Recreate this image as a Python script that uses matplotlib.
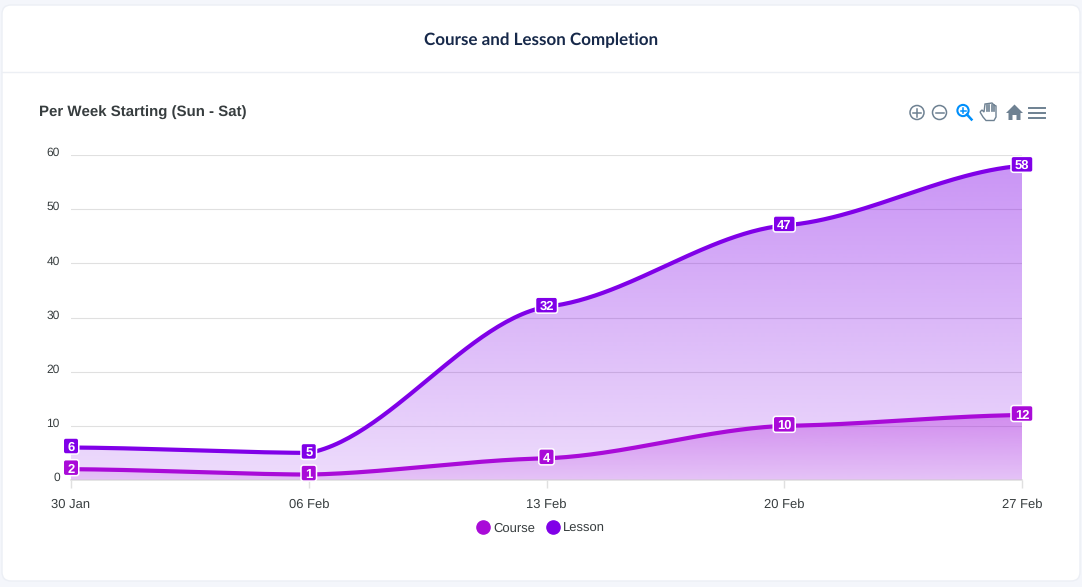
import numpy as np
import matplotlib
matplotlib.use("Agg")
import matplotlib.pyplot as plt
from matplotlib.patches import Circle, FancyBboxPatch, PathPatch, Polygon
from matplotlib.path import Path

weeks = ["30 Jan", "06 Feb", "13 Feb", "20 Feb", "27 Feb"]
course = [2, 1, 4, 10, 12]
lesson = [6, 5, 32, 47, 58]
y_ticks = [0, 10, 20, 30, 40, 50, 60]

COURSE_COLOR = "#a90bd8"
LESSON_COLOR = "#8000e8"
W, H = 1082, 587


def smooth(values, n=60):
    # each segment is its own cubic, end slopes are a share of the segment rise
    y = np.array(values, dtype=float)
    xs, ys = [], []
    for i in range(len(y) - 1):
        t = np.linspace(0, 1, n)
        m = 0.3 * (y[i + 1] - y[i])
        h00 = 2 * t**3 - 3 * t**2 + 1
        h10 = t**3 - 2 * t**2 + t
        h01 = -2 * t**3 + 3 * t**2
        h11 = t**3 - t**2
        xs.append(i + t)
        ys.append(h00 * y[i] + h10 * m + h01 * y[i + 1] + h11 * m)
    return np.concatenate(xs), np.concatenate(ys)


def gradient_area(ax, values, color, a_top, a_bottom, z):
    x, y = smooth(values)
    top = max(values)
    rgb = matplotlib.colors.to_rgb(color)
    img = np.zeros((256, 1, 4))
    img[..., :3] = rgb
    img[:, 0, 3] = np.linspace(a_top, a_bottom, 256)
    im = ax.imshow(img, extent=(x[0], x[-1], 0, top), origin="upper",
                   aspect="auto", zorder=z, interpolation="bilinear")
    poly = Polygon(np.vstack([np.c_[x, y], [x[-1], 0], [x[0], 0]]),
                   closed=True, transform=ax.transData, fc="none", ec="none")
    ax.add_patch(poly)
    im.set_clip_path(poly)
    ax.plot(x, y, color=color, lw=3.0, zorder=z + 2, solid_capstyle="butt")


def badges(ax, top, values, color):
    # badges are drawn on the pixel overlay so their size stays fixed
    for i, v in enumerate(values):
        px, py = ax.transData.transform((i, v))
        cx, cy = px, H - py - 1.5
        w = 22 if v >= 10 else 15.5
        top.add_patch(FancyBboxPatch((cx - w / 2, cy - 8), w, 16,
                                     boxstyle="round,pad=0,rounding_size=2.5",
                                     fc=color, ec="white", lw=1.1))
        top.text(cx, cy + 0.3, str(v), ha="center", va="center_baseline", color="white",
                 fontsize=9.7, fontweight="bold")


plt.rcParams["font.family"] = "Liberation Sans"
plt.rcParams["text.hinting"] = "no_hinting"
plt.rcParams["text.hinting_factor"] = 1
fig = plt.figure(figsize=(W / 100, H / 100), dpi=100, facecolor="#f4f6fb")

# overlay in pixel coordinates for the card and toolbar
bg = fig.add_axes([0, 0, 1, 1], zorder=0)
bg.set_xlim(0, W)
bg.set_ylim(H, 0)
bg.axis("off")
bg.add_patch(FancyBboxPatch((2, 5), W - 4, 576, boxstyle="round,pad=0,rounding_size=9",
                            fc="white", ec="#eceff5", lw=1))
bg.plot([2, W - 2], [71.5, 71.5], color="#eceff4", lw=1)
bg.text(541.5, 40.5, "Course and Lesson Completion", ha="center", va="center",
        fontsize=12.0, family="Lato", fontweight="bold", color="#17294a")
bg.text(39, 113, "Per Week Starting (Sun - Sat)", ha="left", va="center",
        fontsize=11.05, fontweight="bold", color="#373d3f")

# chart
ax = fig.add_axes([71 / W, 1 - 480 / H, 951 / W, 325 / H], zorder=1)
ax.patch.set_alpha(0)
ax.set_xlim(0, len(weeks) - 1)
ax.set_ylim(0, 60)
for s in ["top", "left", "right"]:
    ax.spines[s].set_visible(False)
ax.spines["bottom"].set_color("#e0e0e0")
ax.spines["bottom"].set_linewidth(1.2)
ax.set_yticks(y_ticks)
ax.tick_params(axis="y", length=0, labelleft=False)
# y labels sit a little above their gridlines
for v in y_ticks:
    ax.annotate(str(v), (0, v), xytext=(-8, 1.4), textcoords="offset points",
                ha="right", va="center", fontsize=8.8, color="#373d3f", annotation_clip=False)
ax.set_xticks(range(len(weeks)))
ax.set_xticklabels(weeks, fontsize=9.3, color="#373d3f")
ax.tick_params(axis="x", length=6, width=1, color="#e0e0e0", pad=7.5)
ax.grid(axis="y", color="#e0e0e0", lw=0.8)
ax.set_axisbelow(True)

gradient_area(ax, lesson, LESSON_COLOR, 0.42, 0.14, 2)
gradient_area(ax, course, COURSE_COLOR, 0.33, 0.12, 3)

handles = [plt.Line2D([], [], ls="", marker="o", ms=9.5, color=c) for c in (COURSE_COLOR, LESSON_COLOR)]
ax.legend(handles, ["Course", "Lesson"], loc="center", ncol=2, frameon=False,
          bbox_to_anchor=(466.5 / 951, -48.5 / 325), fontsize=9.5, labelcolor="#373d3f",
          handletextpad=-0.2, columnspacing=0.3)

top = fig.add_axes([0, 0, 1, 1], zorder=2)
top.set_xlim(0, W)
top.set_ylim(H, 0)
top.axis("off")
badges(ax, top, course, COURSE_COLOR)
badges(ax, top, lesson, LESSON_COLOR)

# toolbar icons
ICON = "#6e8192"
for cx, plus in [(917, True), (939.5, False)]:
    bg.add_patch(Circle((cx, 112.5), 7, fc="none", ec=ICON, lw=1.1))
    bg.plot([cx - 4, cx + 4], [112.5, 112.5], color=ICON, lw=1.1)
    if plus:
        bg.plot([cx, cx], [108.5, 116.5], color=ICON, lw=1.1)
bg.add_patch(Circle((963, 110.5), 5.6, fc="none", ec="#008ffb", lw=1.5))
bg.plot([967, 971.5], [114.5, 119.5], color="#008ffb", lw=1.8)
bg.plot([960.5, 965.5], [110.5, 110.5], color="#008ffb", lw=1.1)
bg.plot([963, 963], [108, 113], color="#008ffb", lw=1.1)
# hand
hand = Path([(980, 112), (983, 117), (986, 120.5), (994, 120.5), (996, 117), (996, 106),
             (994, 105), (992, 103), (985, 104), (984, 112), (982, 110), (980, 112)])
bg.add_patch(PathPatch(hand, fc="white", ec=ICON, lw=1.0))
for hx in (986.5, 989, 991.5, 994):
    bg.plot([hx, hx], [104.5, 111], color=ICON, lw=1.2)
# home
bg.add_patch(Polygon([(1006, 113), (1014.5, 104.5), (1023, 113), (1020.5, 113), (1020.5, 120),
                      (1016.5, 120), (1016.5, 115), (1012.5, 115), (1012.5, 120),
                      (1008.5, 120), (1008.5, 113)], fc=ICON, ec="none"))
for yy in (107.5, 112.5, 117.5):
    bg.plot([1029, 1045], [yy, yy], color=ICON, lw=1.4)

fig.savefig("out.png", dpi=100, facecolor=fig.get_facecolor())
